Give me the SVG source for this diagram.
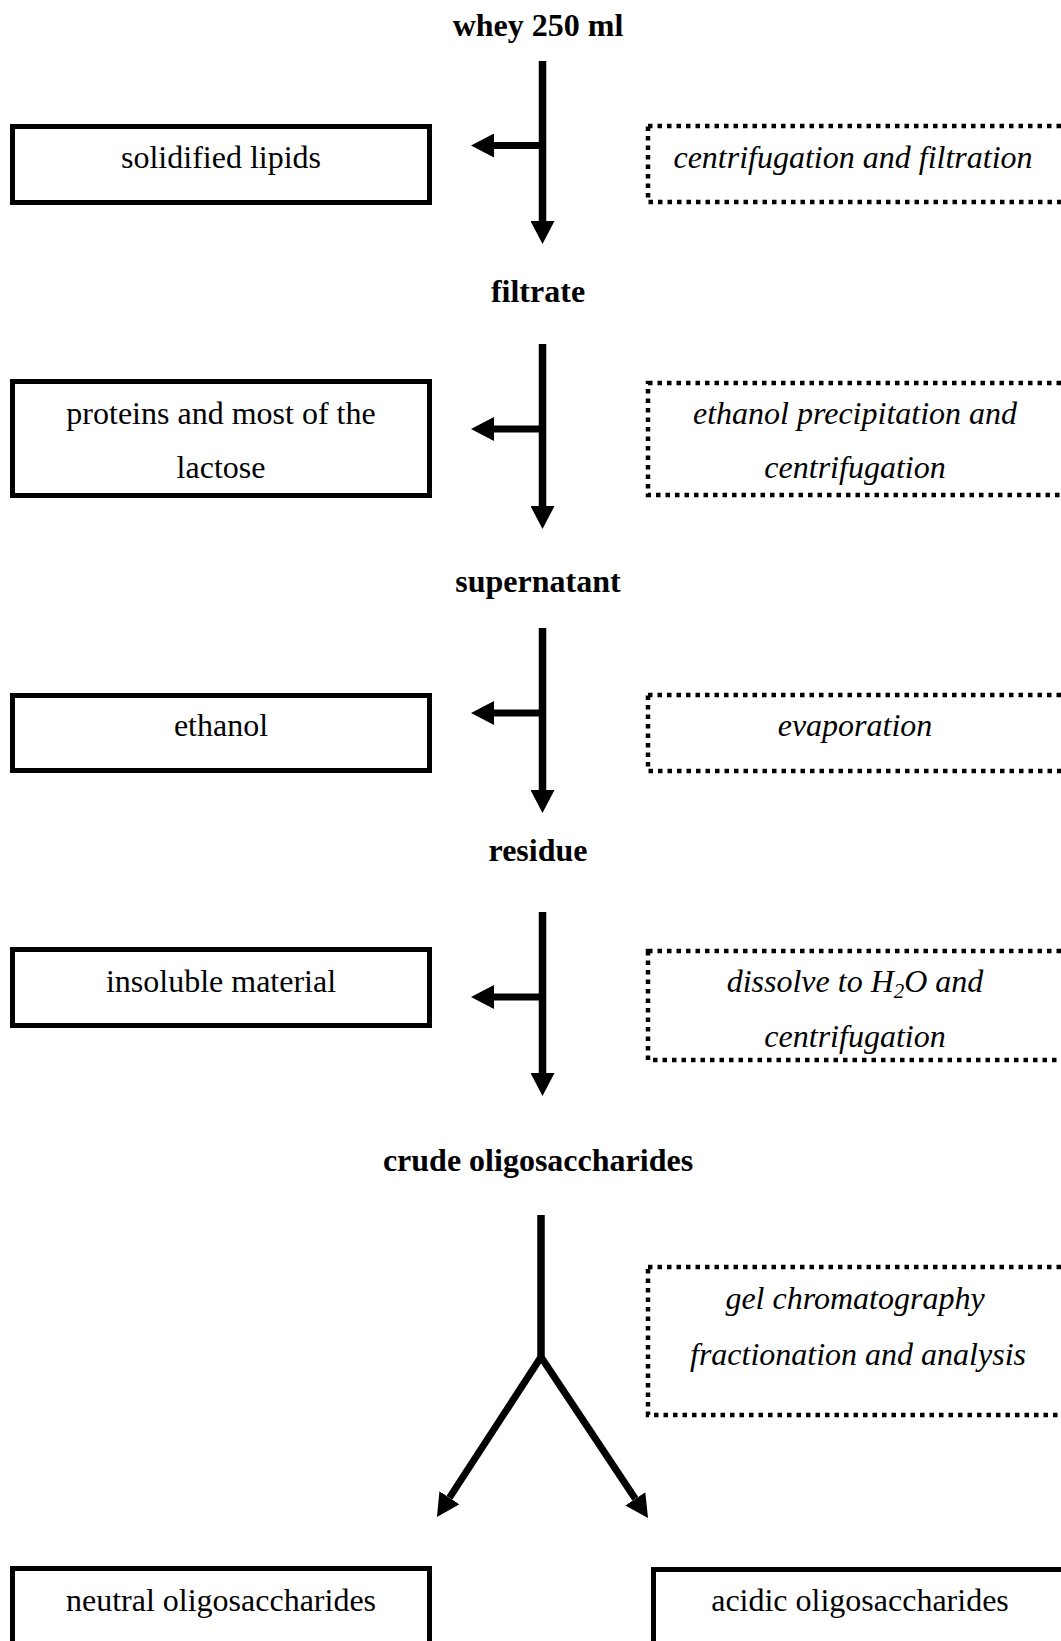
<svg xmlns="http://www.w3.org/2000/svg" width="1061" height="1641" viewBox="0 0 1061 1641">
<style>
  text { font-family: "Liberation Serif", "Times New Roman", serif; font-size: 32px; fill: #000; text-anchor: middle; }
  .b { font-weight: bold; }
  .i { font-style: italic; }
  .box { fill: #fff; stroke: #000; stroke-width: 5; }
  .dot { fill: none; stroke: #000; stroke-width: 4.5; stroke-dasharray: 4.5 5; }
  .ln { fill: none; stroke: #000; stroke-width: 7.5; }
  .br { fill: none; stroke: #000; stroke-width: 7; marker-end: url(#ah); }
</style>
<defs>
  <marker id="ah" markerUnits="userSpaceOnUse" viewBox="0 -12 23 24" refX="0" refY="0" markerWidth="23" markerHeight="24" orient="auto">
    <path d="M0,-12 L23,0 L0,12 z" fill="#000"/>
  </marker>
</defs>
<rect width="1061" height="1641" fill="#fff"/>

<g id="labels">
  <text id="whey" class="b" x="538" y="36">whey 250 ml</text>
  <text id="filtrate" class="b" x="538" y="302">filtrate</text>
  <text id="supernatant" class="b" x="538" y="592">supernatant</text>
  <text id="residue" class="b" x="538" y="861">residue</text>
  <text id="crude" class="b" x="538" y="1171">crude oligosaccharides</text>
</g>

<g id="connectors">
  <line class="ln" x1="542.5" y1="61" x2="542.5" y2="221" marker-end="url(#ah)"/>
  <line class="br" x1="546" y1="145.5" x2="494" y2="145.5"/>
  <line class="ln" x1="542.5" y1="344" x2="542.5" y2="506" marker-end="url(#ah)"/>
  <line class="br" x1="546" y1="429" x2="494" y2="429"/>
  <line class="ln" x1="542.5" y1="628" x2="542.5" y2="790" marker-end="url(#ah)"/>
  <line class="br" x1="546" y1="713" x2="494" y2="713"/>
  <line class="ln" x1="542.5" y1="912" x2="542.5" y2="1073" marker-end="url(#ah)"/>
  <line class="br" x1="546" y1="997" x2="494" y2="997"/>
  <line class="ln" x1="541" y1="1215" x2="541" y2="1360"/>
  <line class="br" x1="541" y1="1357" x2="449.5" y2="1497.7"/>
  <line class="br" x1="541" y1="1357" x2="635.3" y2="1498.8"/>
</g>

<g id="node-lipids">
  <rect class="box" x="12.5" y="126.5" width="417" height="76"/>
  <text x="221" y="168">solidified lipids</text>
</g>
<g id="node-centrifugation">
  <rect class="dot" x="648" y="126" width="430" height="76"/>
  <text class="i" x="853" y="168">centrifugation and filtration</text>
</g>

<g id="node-proteins">
  <rect class="box" x="12.5" y="381.5" width="417" height="114"/>
  <text x="221" y="424">proteins and most of the</text>
  <text x="221" y="478">lactose</text>
</g>
<g id="node-ethanolprec">
  <rect class="dot" x="648" y="383" width="430" height="112"/>
  <text class="i" x="855" y="424">ethanol precipitation and</text>
  <text class="i" x="855" y="478">centrifugation</text>
</g>

<g id="node-ethanol">
  <rect class="box" x="12.5" y="695.5" width="417" height="75"/>
  <text x="221" y="736">ethanol</text>
</g>
<g id="node-evaporation">
  <rect class="dot" x="648" y="695" width="430" height="76"/>
  <text class="i" x="855" y="736">evaporation</text>
</g>

<g id="node-insoluble">
  <rect class="box" x="12.5" y="949.5" width="417" height="76"/>
  <text x="221" y="992">insoluble material</text>
</g>
<g id="node-dissolve">
  <rect class="dot" x="648" y="951" width="430" height="109"/>
  <text class="i" x="855" y="992">dissolve to H<tspan font-size="21" dy="6">2</tspan><tspan dy="-6">O and</tspan></text>
  <text class="i" x="855" y="1047">centrifugation</text>
</g>

<g id="node-gel">
  <rect class="dot" x="648" y="1267" width="430" height="148"/>
  <text class="i" x="855" y="1309">gel chromatography</text>
  <text class="i" x="858" y="1365">fractionation and analysis</text>
</g>

<g id="node-neutral">
  <rect class="box" x="12.5" y="1568.5" width="417" height="120"/>
  <text x="221" y="1611">neutral oligosaccharides</text>
</g>
<g id="node-acidic">
  <rect class="box" x="653.5" y="1569.5" width="430" height="120"/>
  <text x="860" y="1611">acidic oligosaccharides</text>
</g>
</svg>
